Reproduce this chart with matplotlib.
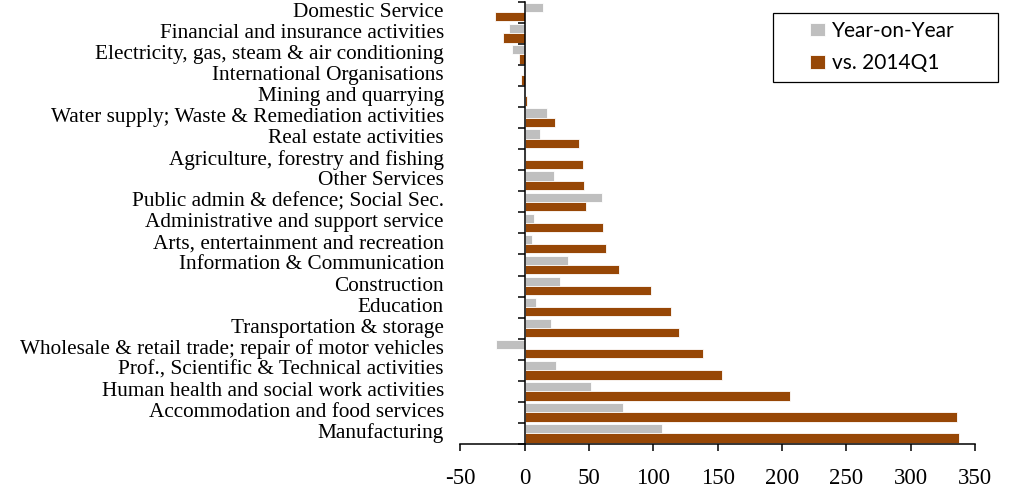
import numpy as np
import matplotlib
matplotlib.use('Agg')
import matplotlib.pyplot as plt
from matplotlib.patches import Rectangle
from matplotlib.transforms import blended_transform_factory

# categories listed bottom -> top
categories = [
    'Manufacturing',
    'Accommodation and food services',
    'Human health and social work activities',
    'Prof., Scientific & Technical activities',
    'Wholesale & retail trade; repair of motor vehicles',
    'Transportation & storage',
    'Education',
    'Construction',
    'Information & Communication',
    'Arts, entertainment and recreation',
    'Administrative and support service',
    'Public admin & defence; Social Sec.',
    'Other Services',
    'Agriculture, forestry and fishing',
    'Real estate activities',
    'Water supply; Waste & Remediation activities',
    'Mining and quarrying',
    'International Organisations',
    'Electricity, gas, steam & air conditioning',
    'Financial and insurance activities',
    'Domestic Service',
]
year_on_year = [107, 76.5, 51.5, 24.5, -22.5, 20.5, 9, 27.5, 34, 5.5, 7,
                60.5, 23, 1.3, 12, 17, 0, -1, -10, -12, 14.5]
vs_2014q1 = [337.8, 336.2, 206.5, 153.7, 138.4, 120, 114, 98, 73.5, 63.5, 61,
             48, 46, 45.7, 42, 23.5, 1.5, -3, -4.5, -17, -23.2]
xticks = [-50, 0, 50, 100, 150, 200, 250, 300, 350]

C_YOY = '#BFBFBF'
C_VS = '#974706'
SERIF = 'Liberation Serif'

fig = plt.figure(figsize=(10.12, 4.9), dpi=100)
ax = fig.add_axes([460.3 / 1012, 46 / 490, (975 - 460.3) / 1012, (444 - 1.7) / 490])

y = np.arange(len(categories))
h = 0.44
ax.barh(y + h / 2, year_on_year, height=h, color=C_YOY, edgecolor='white', linewidth=0.6,
        label='Year-on-Year')
ax.barh(y - h / 2, vs_2014q1, height=h, color=C_VS, edgecolor='white', linewidth=0.6,
        label='vs. 2014Q1')

ax.set_xlim(-50, 350)
ax.set_ylim(-0.5, len(categories) - 0.5)

# axes styling (Excel look)
ax.spines['top'].set_visible(False)
ax.spines['right'].set_visible(False)
ax.spines['left'].set_position(('data', 0))
for sp in ('left', 'bottom'):
    ax.spines[sp].set_linewidth(1.1)
    ax.spines[sp].set_color('black')

ax.set_xticks(xticks)
ax.set_xticklabels([str(v) for v in xticks], family=SERIF, fontsize=16.5)
ax.tick_params(axis='x', direction='out', length=5, width=1.1, pad=12)

ax.set_yticks(np.arange(-0.5, len(categories), 1))
ax.set_yticklabels([])
ax.tick_params(axis='y', direction='out', length=5, width=1.1)

# category labels sit at the left edge of the plot area
trans = blended_transform_factory(ax.transAxes, ax.transData)
for yi, name in zip(y, categories):
    ax.text(-0.032, yi, name, transform=trans, ha='right', va='center',
            family=SERIF, fontsize=15.3)

# legend with Excel-like box
leg = fig.legend(loc='center', bbox_to_anchor=(882 / 1012, 1 - 47.2 / 490),
                 frameon=False, prop={'family': 'Lato', 'size': 15},
                 handlelength=0.75, handleheight=0.6, handletextpad=0.3,
                 labelspacing=0.6, borderpad=0)
fig.add_artist(Rectangle((772.7 / 1012, 1 - 81.7 / 490), 225 / 1012, 69 / 490,
                         transform=fig.transFigure, fill=False,
                         edgecolor='black', linewidth=0.9))

fig.savefig('out.png', dpi=100)
